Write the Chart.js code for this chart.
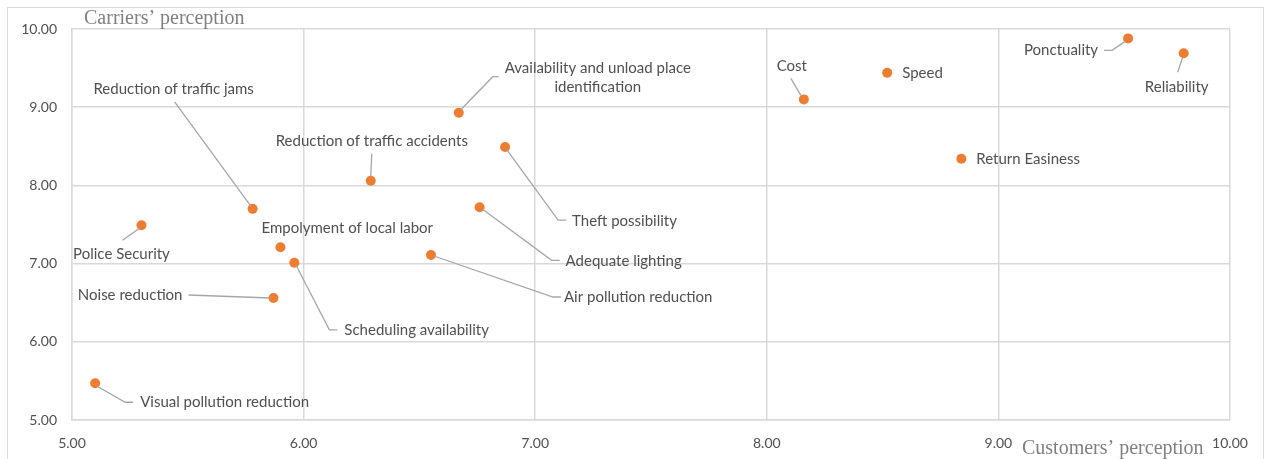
<!DOCTYPE html>
<html>
<head>
<meta charset="utf-8">
<script src="https://cdn.jsdelivr.net/npm/chart.js@4/dist/chart.umd.min.js"></script>
<style>
  html, body { margin: 0; padding: 0; background: #ffffff; }
  #wrap { width: 1267px; height: 459px; position: relative; }
</style>
</head>
<body>
<div id="wrap"><canvas id="chart" width="1267" height="459"></canvas></div>
<script>
// Perception scores of each logistics factor
const factors = [
  'Ponctuality', 'Reliability', 'Speed', 'Cost', 'Return Easiness',
  'Availability and unload place identification', 'Theft possibility',
  'Reduction of traffic accidents', 'Adequate lighting', 'Reduction of traffic jams',
  'Police Security', 'Empolyment of local labor', 'Air pollution reduction',
  'Scheduling availability', 'Noise reduction', 'Visual pollution reduction'
];
const customersScores = [9.56, 9.80, 8.52, 8.16, 8.84, 6.67, 6.87, 6.29, 6.76, 5.78, 5.30, 5.90, 6.55, 5.96, 5.87, 5.10];
const carriersScores  = [9.88, 9.69, 9.44, 9.10, 8.34, 8.93, 8.49, 8.06, 7.72, 7.70, 7.49, 7.21, 7.11, 7.01, 6.56, 5.47];
const axisTicks = [5, 6, 7, 8, 9, 10];

// Where each label sits relative to its marker (pixels), plus its leader line
const labelLayout = [
  { dx: -30, dy: 12, align: 'right', leader: [[-24, 12], [-16, 12], [-3, 3]] },
  { dx: -7, dy: 34, align: 'center', leader: [[-6, 19], [-1, 4]] },
  { dx: 15, dy: 0, align: 'left' },
  { dx: -12, dy: -33, align: 'center', leader: [[-13, -21], [-3, -4]] },
  { dx: 15, dy: 0, align: 'left' },
  { dx: 139, dy: -45, align: 'center', lines: ['Availability and unload place', 'identification'], leader: [[40, -36], [34, -36], [2, -3]] },
  { dx: 67, dy: 74, align: 'left', leader: [[2, 3], [53, 73], [61, 73]] },
  { dx: 1, dy: -40, align: 'center', leader: [[1, -27], [0, -4]] },
  { dx: 86, dy: 54, align: 'left', leader: [[3, 2], [72, 53], [80, 53]] },
  { dx: -79, dy: -120, align: 'center', leader: [[-78, -107], [-2, -3]] },
  { dx: -20, dy: 29, align: 'center', leader: [[-19, 15], [-2, 3]] },
  { dx: -19, dy: -19, align: 'left' },
  { dx: 133, dy: 42, align: 'left', leader: [[3, 1], [122, 42], [130, 42]] },
  { dx: 50, dy: 67, align: 'left', leader: [[2, 3], [35, 67], [43, 67]] },
  { dx: -91, dy: -3, align: 'right', leader: [[-85, -3], [-3, 0]] },
  { dx: 45, dy: 19, align: 'left', leader: [[2, 3], [30, 19], [38, 19]] }
];

const LABEL_FONT = '15px Lato, "Open Sans", sans-serif';
const TEXT_COLOR = '#505050';
const GRID_COLOR = '#d9d9d9';

const points = customersScores.map((x, i) => ({ x: x, y: carriersScores[i] }));

// Frame, white background and the two axis titles
const framePlugin = {
  id: 'frame',
  beforeDraw(chart) {
    const ctx = chart.ctx;
    ctx.save();
    ctx.fillStyle = '#ffffff';
    ctx.fillRect(0, 0, chart.width, chart.height);
    ctx.strokeStyle = GRID_COLOR;
    ctx.lineWidth = 1;
    ctx.strokeRect(7.5, 7.5, 1256, 470);
    ctx.restore();
  },
  afterDraw(chart) {
    const ctx = chart.ctx;
    ctx.save();
    ctx.fillStyle = '#7f7f7f';
    ctx.font = '20px "Liberation Serif", "Times New Roman", serif';
    ctx.textBaseline = 'middle';
    ctx.textAlign = 'left';
    ctx.fillText('Carriers\u2019 perception', 84, 19);
    ctx.fillText('Customers\u2019 perception', 1022, 449);
    ctx.restore();
  }
};

// Data labels with leader lines, anchored at each marker's pixel position
const labelPlugin = {
  id: 'pointLabels',
  afterDatasetsDraw(chart) {
    const ctx = chart.ctx;
    const meta = chart.getDatasetMeta(0);
    ctx.save();
    meta.data.forEach((el, i) => {
      const L = labelLayout[i];
      const px = el.x, py = el.y;
      if (L.leader) {
        ctx.strokeStyle = '#a6a6a6';
        ctx.lineWidth = 1.3;
        ctx.beginPath();
        L.leader.forEach((p, k) => {
          const lx = px + p[0], ly = py + p[1];
          if (k === 0) ctx.moveTo(lx, ly); else ctx.lineTo(lx, ly);
        });
        ctx.stroke();
      }
      ctx.fillStyle = TEXT_COLOR;
      ctx.font = LABEL_FONT;
      ctx.textAlign = L.align;
      ctx.textBaseline = 'middle';
      const lines = L.lines || [factors[i]];
      lines.forEach((t, k) => {
        ctx.fillText(t, px + L.dx, py + L.dy + k * 19);
      });
    });
    ctx.restore();
  }
};

new Chart(document.getElementById('chart'), {
  type: 'scatter',
  data: {
    datasets: [{
      label: 'Perception',
      data: points,
      backgroundColor: '#ed7d31',
      borderColor: '#ed7d31',
      pointRadius: 5,
      pointHoverRadius: 5,
      borderWidth: 0
    }]
  },
  options: {
    responsive: false,
    animation: false,
    layout: { padding: { left: 0, top: 29, right: 37, bottom: 0 } },
    plugins: {
      legend: { display: false },
      tooltip: { enabled: false }
    },
    scales: {
      x: {
        type: 'linear',
        min: 5, max: 10,
        afterFit(s) { s.height = 39; },
        afterBuildTicks(s) { s.ticks = axisTicks.map(v => ({ value: v })); },
        grid: { color: GRID_COLOR, lineWidth: 1.5, drawTicks: false },
        border: { display: true, color: GRID_COLOR, width: 1.5 },
        ticks: {
          padding: 15,
          color: TEXT_COLOR,
          font: { family: 'Lato, "Open Sans", sans-serif', size: 14 },
          callback: v => v.toFixed(2)
        }
      },
      y: {
        type: 'linear',
        min: 5, max: 10,
        afterFit(s) { s.width = 72; },
        afterBuildTicks(s) { s.ticks = axisTicks.map(v => ({ value: v })); },
        grid: { color: GRID_COLOR, lineWidth: 1.5, drawTicks: false },
        border: { display: true, color: GRID_COLOR, width: 1.5 },
        ticks: {
          padding: 15,
          color: TEXT_COLOR,
          font: { family: 'Lato, "Open Sans", sans-serif', size: 14 },
          callback: v => v.toFixed(2)
        }
      }
    }
  },
  plugins: [framePlugin, labelPlugin]
});
</script>
</body>
</html>
